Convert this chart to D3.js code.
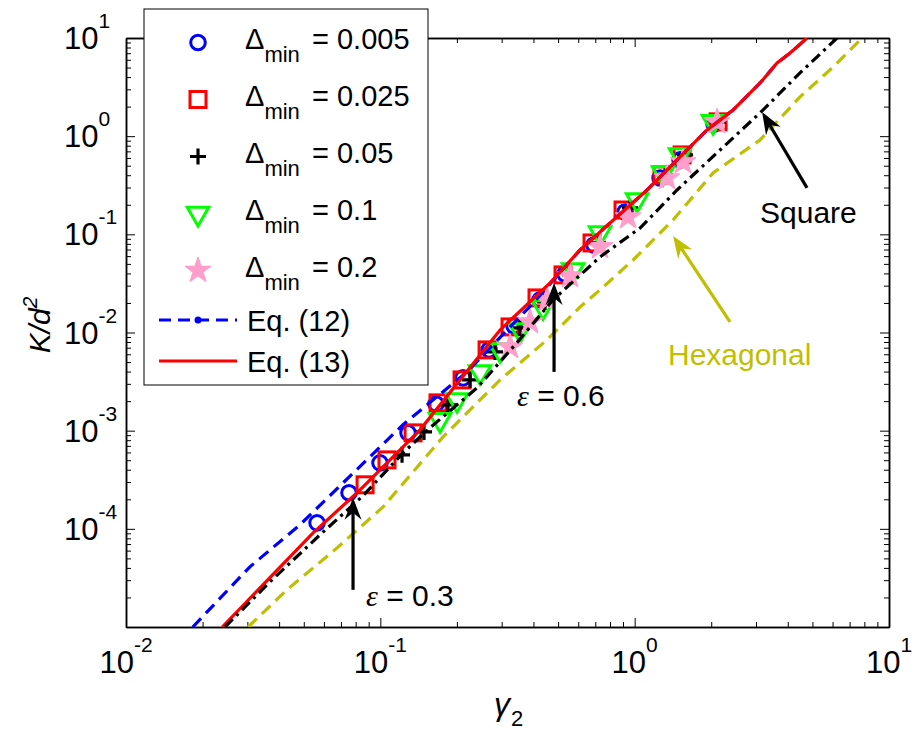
<!DOCTYPE html>
<html>
<head>
<meta charset="utf-8">
<script src="https://cdn.jsdelivr.net/npm/d3@7"></script>
<style>
body { margin: 0; background: #fff; }
svg text { font-family: "Liberation Sans", Arial, sans-serif; }
</style>
</head>
<body>
<div class="graphics"></div>
<script>
// simulation points (gamma_2, K/d^2), one pair of arrays per Delta_min
var d005X = [0.0564, 0.0753, 0.0997, 0.1285, 0.1656, 0.2114, 0.2676, 0.3356, 0.4246, 0.532, 0.692, 0.917, 1.259, 1.508, 2.052]
var d005Y = [1.15e-4, 2.33e-4, 4.70e-4, 9.5e-4, 1.87e-3, 3.45e-3, 6.65e-3, 0.01167, 0.0215, 0.0395, 0.078, 0.169, 0.375, 0.573, 1.33]

var d025X = [0.0871, 0.1062, 0.1345, 0.1686, 0.2096, 0.2628, 0.3236, 0.4131, 0.5227, 0.6798, 0.900, 1.281, 1.536, 2.128]
var d025Y = [2.81e-4, 5.04e-4, 9.5e-4, 1.92e-3, 3.29e-3, 6.65e-3, 0.0114, 0.0225, 0.0386, 0.0817, 0.177, 0.403, 0.644, 1.40]

var d05X = [0.1217, 0.1485, 0.1846, 0.2252, 0.2825, 0.3543, 0.4442, 0.557, 0.718, 0.959, 1.317, 1.578, 2.128]
var d05Y = [5.67e-4, 9.72e-4, 1.83e-3, 3.29e-3, 6.34e-3, 0.01114, 0.0205, 0.0386, 0.0817, 0.186, 0.403, 0.644, 1.40]

var d1X = [0.1717, 0.2002, 0.2466, 0.2956, 0.3543, 0.4363, 0.5725, 0.731, 1.022, 1.293, 1.508, 2.033]
var d1Y = [1.29e-3, 2.06e-3, 3.97e-3, 6.65e-3, 0.0106, 0.0182, 0.0434, 0.1033, 0.224, 0.422, 0.644, 1.40]

var d2X = [0.3236, 0.3879, 0.452, 0.557, 0.731, 0.942, 1.341, 1.549, 2.109]
var d2Y = [7.13e-3, 0.0128, 0.0215, 0.0377, 0.0745, 0.150, 0.375, 0.546, 1.40]

// model curves
var eq12X = [0.0183, 0.0307, 0.0483, 0.0694, 0.1228, 0.2193, 0.399, 0.610, 0.800, 1.119, 1.508, 1.926, 2.438, 3.112, 3.631, 4.083, 4.764]
var eq12Y = [1e-5, 4.10e-5, 1.10e-4, 2.74e-4, 1.15e-3, 3.97e-3, 0.0200, 0.0693, 0.1306, 0.283, 0.614, 1.156, 1.849, 3.483, 5.56, 7.03, 10]

var eq13X = [0.0239, 0.0544, 0.0810, 0.1432, 0.2956, 0.465, 0.610, 0.800, 1.119, 1.508, 1.926, 2.438, 3.112, 3.631, 4.083, 4.764]
var eq13Y = [1e-5, 9.10e-5, 2.33e-4, 1.02e-3, 0.0106, 0.0320, 0.0693, 0.1306, 0.283, 0.614, 1.156, 1.849, 3.483, 5.56, 7.03, 10]

var squareX = [0.0245, 0.0368, 0.0579, 0.0847, 0.1228, 0.1568, 0.240, 0.3386, 0.4775, 0.731, 1.050, 1.468, 3.199, 4.467, 6.25]
var squareY = [1e-5, 2.88e-5, 8.69e-5, 2.12e-4, 5.94e-4, 1.07e-3, 2.73e-3, 7.48e-3, 0.0215, 0.0589, 0.116, 0.283, 1.849, 4.41, 10]

var hexX = [0.0302, 0.0430, 0.0676, 0.1025, 0.1764, 0.2956, 0.452, 0.610, 0.731, 0.986, 1.416, 2.033, 3.112, 4.467, 6.03, 7.84]
var hexY = [1e-5, 2.40e-5, 6.40e-5, 1.67e-4, 8.65e-4, 3.29e-3, 8.41e-3, 0.0182, 0.0272, 0.0548, 0.140, 0.422, 0.915, 2.51, 5.07, 10]

var xTickExp = [-2, -1, 0, 1]
var yTickExp = [1, 0, -1, -2, -3, -4]
var deltaLabels = ["0.005", "0.025", "0.05", "0.1", "0.2"]

var w = 915, h = 732
var L = 126, R = 889, T = 38, B = 627

var svg = d3.select('.graphics').append('svg')
    .attr('width', w).attr('height', h)

var x = d3.scaleLog().domain([0.01, 10]).range([L, R])
var y = d3.scaleLog().domain([1e-5, 10]).range([B, T])

function zip(a, b){
    return a.map(function(d, i){ return [d, b[i]]; });
}

svg.append('clipPath').attr('id', 'plotclip')
    .append('rect').attr('x', L).attr('y', T).attr('width', R - L).attr('height', B - T)

// ---- axes, ticks inside on all four sides
function minors(exps){
    var v = []
    exps.forEach(function(e){
        for (var k = 2; k <= 9; k++) v.push(k * Math.pow(10, e))
    })
    return v
}
var xMaj = [-2, -1, 0, 1].map(function(e){ return Math.pow(10, e); })
var xMin = minors([-2, -1, 0])
var yMaj = [-5, -4, -3, -2, -1, 0, 1].map(function(e){ return Math.pow(10, e); })
var yMin = minors([-5, -4, -3, -2, -1, 0])

function axisPart(fn, scale, vals, size, tr){
    var g = svg.append('g').attr('transform', tr)
        .call(fn(scale).tickValues(vals).tickSizeInner(-size).tickSizeOuter(0).tickFormat(''))
    g.select('.domain').attr('stroke-width', 1.5)
    g.selectAll('.tick line').attr('stroke-width', 1)
}
axisPart(d3.axisBottom, x, xMaj, 9, 'translate(0,' + B + ')')
axisPart(d3.axisBottom, x, xMin, 5, 'translate(0,' + B + ')')
axisPart(d3.axisTop, x, xMaj, 9, 'translate(0,' + T + ')')
axisPart(d3.axisTop, x, xMin, 5, 'translate(0,' + T + ')')
axisPart(d3.axisLeft, y, yMaj, 9, 'translate(' + L + ',0)')
axisPart(d3.axisLeft, y, yMin, 5, 'translate(' + L + ',0)')
axisPart(d3.axisRight, y, yMaj, 9, 'translate(' + R + ',0)')
axisPart(d3.axisRight, y, yMin, 5, 'translate(' + R + ',0)')

xTickExp.forEach(function(e){
    var t = svg.append('text').attr('x', x(Math.pow(10, e))).attr('y', 673)
        .attr('text-anchor', 'middle').attr('font-size', 31)
    t.append('tspan').text('10')
    t.append('tspan').attr('font-size', 21).attr('dy', -21).text(e)
})
yTickExp.forEach(function(e){
    var t = svg.append('text').attr('x', 64).attr('y', y(Math.pow(10, e)) + 11)
        .attr('font-size', 31)
    t.append('tspan').text('10')
    t.append('tspan').attr('font-size', 21).attr('dy', -21).text(e)
})

// axis titles
var yl = svg.append('text').attr('transform', 'translate(50,325) rotate(-90)')
    .attr('text-anchor', 'middle').attr('font-size', 30).attr('font-style', 'italic')
yl.append('tspan').text('K/d')
yl.append('tspan').attr('font-size', 21).attr('dy', -13).text('2')

svg.append('text').attr('x', 494).attr('y', 715)
    .attr('font-family', '"Liberation Serif", "Times New Roman", serif')
    .attr('font-style', 'italic').attr('font-size', 32).text('γ')
svg.append('text').attr('x', 511).attr('y', 726).attr('font-size', 22).text('2')

// ---- markers
var blue = '#0000ff', red = '#ff0000', green = '#00ff00', pink = '#ff9ecb', olive = '#bfbf00'
var series = [
    {x: d005X, y: d005Y, type: 'circle', color: blue},
    {x: d025X, y: d025Y, type: 'square', color: red},
    {x: d05X, y: d05Y, type: 'plus', color: '#000'},
    {x: d1X, y: d1Y, type: 'tri', color: green},
    {x: d2X, y: d2Y, type: 'star', color: pink}
]

function marker(g, type, color){
    if (type == 'circle'){
        g.append('circle').attr('r', 7.3).attr('fill', 'none').attr('stroke', color).attr('stroke-width', 3)
    } else if (type == 'square'){
        g.append('rect').attr('x', -8).attr('y', -8).attr('width', 16).attr('height', 16)
            .attr('fill', 'none').attr('stroke', color).attr('stroke-width', 3)
    } else if (type == 'plus'){
        g.append('path').attr('d', 'M-8,0H8M0,-8V8').attr('stroke', color).attr('stroke-width', 3.2)
    } else if (type == 'tri'){
        g.append('path').attr('d', d3.symbol(d3.symbolTriangle, 200)()).attr('transform', 'rotate(180)')
            .attr('fill', 'none').attr('stroke', color).attr('stroke-width', 3)
    } else {
        g.append('path').attr('d', d3.symbol(d3.symbolStar, 190)())
            .attr('fill', color).attr('stroke', color).attr('stroke-width', 1.5).attr('stroke-linejoin', 'round')
    }
}

series.forEach(function(s){
    svg.append('g').selectAll('g')
        .data(zip(s.x, s.y))
        .enter()
        .append('g')
        .attr('transform', function(d){ return 'translate(' + x(d[0]) + ',' + y(d[1]) + ')'; })
        .each(function(){ marker(d3.select(this), s.type, s.color); })
})

// ---- curves
var line = d3.line().x(function(d){ return x(d[0]); }).y(function(d){ return y(d[1]); })
var curves = [
    {x: eq12X, y: eq12Y, color: blue, dash: '12,7'},
    {x: eq13X, y: eq13Y, color: red, dash: null},
    {x: squareX, y: squareY, color: '#000', dash: '11,5,3,5'},
    {x: hexX, y: hexY, color: olive, dash: '12,7'}
]
curves.forEach(function(c){
    svg.append('path').datum(zip(c.x, c.y))
        .attr('clip-path', 'url(#plotclip)')
        .attr('d', line)
        .attr('fill', 'none')
        .attr('stroke', c.color)
        .attr('stroke-width', 3.2)
        .attr('stroke-dasharray', c.dash)
})

// ---- annotation arrows (data coords)
function arrow(x0, y0, x1, y1, color){
    var ax = x(x0), ay = y(y0), bx = x(x1), by = y(y1)
    var ang = Math.atan2(by - ay, bx - ax)
    var c = Math.cos(ang), s = Math.sin(ang)
    function p(u, v){ return [bx + u * c - v * s, by + u * s + v * c]; }
    var notch = p(-15, 0)
    svg.append('line').attr('x1', ax).attr('y1', ay).attr('x2', notch[0]).attr('y2', notch[1])
        .attr('stroke', color).attr('stroke-width', 3.2)
    svg.append('path')
        .attr('d', 'M' + [p(0, 0), p(-22, -8.5), p(-15, 0), p(-22, 8.5)].join('L') + 'Z')
        .attr('fill', color)
    return [ax, ay]
}

var a1 = arrow(0.0781, 2.39e-5, 0.0781, 2.07e-4, '#000')
var a2 = arrow(0.482, 3.97e-3, 0.482, 0.032, '#000')
var a3 = arrow(4.76, 0.297, 3.17, 1.76, '#000')
var a4 = arrow(2.37, 0.0128, 1.416, 0.0964, olive)

function epsLabel(px, py, val){
    var t = svg.append('text').attr('x', px).attr('y', py).attr('font-size', 30)
    t.append('tspan').attr('font-family', '"Liberation Serif", "Times New Roman", serif')
        .attr('font-style', 'italic').text('ε')
    t.append('tspan').text(' = ' + val)
}
epsLabel(a1[0] + 13, a1[1] + 16, '0.3')
epsLabel(a2[0] - 37, a2[1] + 34, '0.6')

svg.append('text').attr('x', a3[0] - 47).attr('y', a3[1] + 35).attr('font-size', 30).text('Square')
svg.append('text').attr('x', a4[0] - 62).attr('y', a4[1] + 43).attr('font-size', 30)
    .attr('fill', olive).text('Hexagonal')

// ---- legend
var lg = svg.append('g')
lg.append('rect').attr('x', 144).attr('y', 9).attr('width', 284).attr('height', 376)
    .attr('fill', '#fff').attr('stroke', '#000').attr('stroke-width', 1)

series.forEach(function(s, i){
    var ly = 42.5 + i * 57
    marker(lg.append('g').attr('transform', 'translate(198,' + ly + ')'), s.type, s.color)
    var t = lg.append('text').attr('x', 245).attr('y', ly + 6).attr('font-size', 29)
    t.append('tspan').text('Δ')
    t.append('tspan').attr('font-size', 22).attr('dy', 13).text('min')
    t.append('tspan').attr('x', 312).attr('dy', -13).text('= ' + deltaLabels[i])
})

var eqRows = [{label: 'Eq. (12)', c: curves[0], y: 320}, {label: 'Eq. (13)', c: curves[1], y: 361}]
eqRows.forEach(function(r){
    lg.append('line').attr('x1', 159).attr('x2', 237).attr('y1', r.y).attr('y2', r.y)
        .attr('stroke', r.c.color).attr('stroke-width', 3.2).attr('stroke-dasharray', r.c.dash)
    lg.append('text').attr('x', 247).attr('y', r.y + 11).attr('font-size', 29).text(r.label)
})
lg.append('circle').attr('cx', 198).attr('cy', 320).attr('r', 3.5).attr('fill', blue)
</script>
</body>
</html>
